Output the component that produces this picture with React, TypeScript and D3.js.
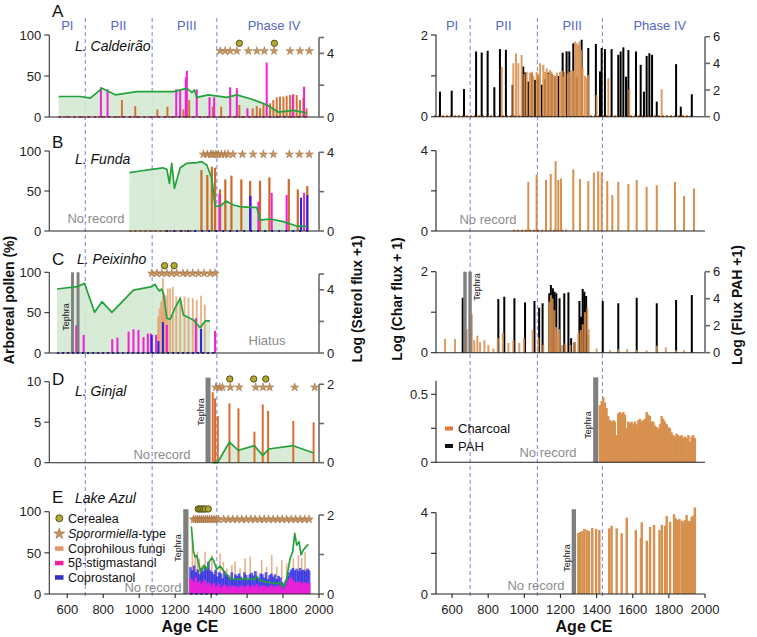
import React from "react";
import * as d3 from "d3";

const FONT = "'Liberation Sans', Arial, Helvetica, sans-serif";

// ---------------- shared axis data ----------------
const yearDomain: [number, number] = [500, 2000];
const phaseBoundaries = [700, 1072, 1432];
const phaseLabels: [string, number][] = [["PI", 600], ["PII", 885], ["PIII", 1265], ["Phase IV", 1750]];
const xTickYears = [600, 800, 1000, 1200, 1400, 1600, 1800, 2000];

// ---------------- A: L. Caldeirão ----------------
const aPollen: [number, number][] = [[552,25],[672,25],[728,23],[793,35],[867,27],[987,31],[1190,31],[1265,35],[1293,30],[1307,33],[1320,24],[1385,27],[1487,24],[1543,27],[1635,21],[1709,15],[1774,6],[1857,8],[1931,5]];
const aFungi: [number, number][] = [[904,20.7],[978,13.4],[1101,9.3],[1157,12.6],[1246,9.3],[1278,20.7],[1409,12.6],[1456,12.6],[1557,14.6],[1631,10.6],[1654,13.4],[1672,10.6],[1691,15.9],[1728,16.7],[1746,20.7],[1765,23.9],[1783,24.8],[1802,24.8],[1820,26],[1839,26.8],[1857,28],[1876,26.8],[1894,20.7],[1913,23.9],[1931,10.6]];
const aStig: [number, number][] = [[787,1.87],[824,1.74],[1206,1.74],[1228,1.66],[1259,2.49],[1265,2.91],[1320,1.74],[1391,1.24],[1417,1.24],[1506,1.87],[1543,1.81],[1602,0.55],[1709,3.42],[1854,1.38],[1917,1.91]];
const aSporo = [1450,1478,1506,1543,1607,1654,1696,1750,1839,1894,1946];
const aCereal = [1557,1752];

// ---------------- B: L. Funda ----------------
const bPollen: [number, number][] = [[946,72.9],[1006,75],[1070,77],[1132,79],[1154,77],[1168,59.6],[1181,84.6],[1196,53.3],[1228,79],[1265,84.6],[1320,85.4],[1348,86.7],[1376,82.5],[1404,65.8],[1422,31.3],[1450,31],[1483,37.5],[1524,32.5],[1561,30.4],[1617,29.6],[1654,29.6],[1672,13.7],[1728,15],[1802,11.7],[1876,6.2],[1931,6.2]];
const bFungi: [number, number][] = [[1346,76.2],[1379,70],[1404,80.4],[1422,79.2],[1450,52],[1479,64.6],[1513,69.2],[1568,64.6],[1617,62.5],[1672,62.9],[1724,67],[1832,65],[1882,52],[1935,56.2]];
const bStig: [number, number][] = [[1446,1.88],[1620,1.78],[1663,1.49],[1737,1.94],[1820,1.83],[1917,1.94]];
const bCopro: [number, number][] = [[1617,1.78],[1900,1.69],[1935,1.83]];
const bSporo = [1357,1379,1399,1411,1426,1439,1457,1476,1494,1522,1574,1633,1691,1746,1835,1891,1946];

// ---------------- C: L. Peixinho ----------------
const cPollen: [number, number][] = [[543,79.3],[654,82.2],[696,86.3],[752,50.4],[793,63.6],[848,50.4],[968,78],[1070,82.2],[1089,85.1],[1098,81],[1113,76.8],[1124,79.3],[1135,74],[1154,43],[1172,41.7],[1200,56.1],[1228,67.8],[1246,47],[1302,40.9],[1339,31.4],[1367,39.7],[1394,39.7]];
const cFungi: [number, number][] = [[1105,45],[1113,55],[1122,63.6],[1128,50],[1132,92.5],[1139,72.7],[1143,60],[1148,71],[1159,80],[1172,80],[1187,82],[1206,70],[1228,70],[1252,70],[1274,68.6],[1298,67.8],[1320,65.7],[1344,71],[1365,60]];
const cStig: [number, number][] = [[650,1.74],[691,1.14],[850,0.87],[879,0.97],[941,1.35],[968,1.5],[996,1.46],[1024,1.0],[1048,1.23],[1065,1.23],[1094,1.14],[1154,1.78],[1315,2.2],[1422,1.4]];
const cCopro: [number, number][] = [[1070,1.14],[1107,0.76],[1132,1.95],[1344,1.52]];
const cSporo = [1070,1098,1126,1154,1181,1209,1243,1268,1298,1329,1361,1394,1422];
const cCereal = [1141,1194];

// ---------------- D: L. Ginjal ----------------
const dPollen: [number, number][] = [[1409,0],[1435,0],[1502,2.55],[1552,1.53],[1641,2.1],[1687,0.91],[1720,1.69],[1857,2.1],[1970,1.2]];
const dFungi: [number, number][] = [[1409,8.7],[1422,7.95],[1437,5.77],[1502,7.33],[1552,6.7],[1641,3.83],[1687,7.2],[1717,6.4],[1857,5.15],[1970,4.98]];
const dSporo = [1426,1448,1463,1507,1555,1648,1689,1726,1865,1976];
const dCereal = [1504,1637,1704];

// ---------------- E: Lake Azul ----------------
const ePollen: [number, number][] = [[1290,82],[1302,51.4],[1311,45],[1320,47],[1333,34.4],[1344,26.3],[1361,35],[1376,30],[1391,40],[1404,44],[1413,41],[1431,30],[1450,34],[1476,26],[1504,19],[1541,17.6],[1587,18.6],[1633,17.6],[1642,17.6],[1652,21.8],[1672,16.6],[1709,14.6],[1765,12.6],[1783,13.8],[1802,8.5],[1820,18.6],[1839,42.9],[1854,51.4],[1865,73.7],[1876,59.5],[1889,63.6],[1900,47.4],[1913,53.5],[1928,57.6],[1941,60.4]];
const eFungi: [number, number][] = [[1296,67.7],[1311,45.4],[1324,51.5],[1335,43.4],[1348,35.2],[1367,51.5],[1385,39.3],[1404,47.4],[1422,27.1],[1450,49.4],[1468,39.3],[1487,31.2],[1515,35.2],[1533,39.3],[1561,31.2],[1589,43.4],[1617,45.4],[1654,27.1],[1681,41.3],[1709,33.2],[1737,47.4],[1765,33.2],[1793,41.3],[1820,37.3],[1857,43.4],[1885,47.4],[1904,43.4],[1922,51.5],[1941,31.2]];
const eCopro: [number, number][] = [[1285,0.68],[1295,0.6],[1305,0.72],[1315,0.55],[1325,0.62],[1335,0.5],[1345,0.66],[1355,0.58],[1365,0.7],[1375,0.64],[1385,0.82],[1395,0.6],[1405,0.56],[1415,0.5],[1425,0.62],[1435,0.45],[1445,0.55],[1455,0.52],[1465,0.4],[1475,0.58],[1485,0.5],[1495,0.48],[1505,0.42],[1515,0.55],[1525,0.38],[1535,0.5],[1545,0.46],[1555,0.52],[1565,0.44],[1575,0.4],[1585,0.55],[1595,0.48],[1605,0.36],[1615,0.5],[1625,0.54],[1635,0.47],[1645,0.58],[1655,0.44],[1665,0.4],[1675,0.52],[1685,0.5],[1695,0.42],[1705,0.55],[1715,0.38],[1725,0.48],[1735,0.52],[1745,0.44],[1755,0.5],[1765,0.38],[1775,0.46],[1785,0.42],[1795,0.3],[1805,0.26],[1815,0.34],[1825,0.45],[1835,0.55],[1845,0.62],[1855,0.66],[1865,0.6],[1875,0.64],[1885,0.58],[1895,0.66],[1905,0.6],[1915,0.62],[1925,0.58],[1935,0.64],[1945,0.6]];
const eStig: [number, number][] = [[1285,0.4],[1295,0.35],[1305,0.3],[1315,0.42],[1325,0.28],[1335,0.33],[1345,0.25],[1355,0.3],[1365,0.36],[1375,0.22],[1385,0.3],[1395,0.25],[1405,0.2],[1415,0.28],[1425,0.18],[1435,0.22],[1445,0.26],[1455,0.15],[1465,0.2],[1475,0.24],[1485,0.18],[1495,0.2],[1505,0.16],[1515,0.22],[1525,0.18],[1535,0.2],[1545,0.14],[1555,0.18],[1565,0.22],[1575,0.16],[1585,0.2],[1595,0.18],[1605,0.24],[1615,0.15],[1625,0.2],[1635,0.22],[1645,0.18],[1655,0.25],[1665,0.16],[1675,0.2],[1685,0.22],[1695,0.18],[1705,0.2],[1715,0.15],[1725,0.18],[1735,0.22],[1745,0.16],[1755,0.2],[1765,0.18],[1775,0.22],[1785,0.2],[1795,0.15],[1805,0.12],[1815,0.2],[1825,0.3],[1835,0.38],[1845,0.42],[1855,0.35],[1865,0.3],[1875,0.28],[1885,0.32],[1895,0.3],[1905,0.26],[1915,0.3],[1925,0.28],[1935,0.25],[1945,0.3]];
const eSporo = [1302,1314,1325,1336,1347,1358,1369,1380,1392,1404,1416,1428,1440,1470,1495,1520,1545,1570,1595,1620,1645,1670,1695,1720,1745,1770,1795,1820,1845,1870,1895,1920,1945];
const eCereal = [1328,1338,1348,1358,1368,1384];

// ---------------- right column: charcoal & PAH ----------------
const rAPah: [number, number][] = [[533,1.88],[598,1.95],[666,2.08],[733,4.89],[764,4.81],[797,4.94],[834,2.21],[865,5.07],[898,5.02],[935,2.38],[994,3.76],[1004,3.31],[1022,2.63],[1041,3.26],[1059,2.76],[1077,3.0],[1096,2.4],[1114,2.8],[1133,3.3],[1151,3.2],[1170,3.0],[1188,3.05],[1212,4.8],[1234,4.9],[1249,4.9],[1271,5.5],[1290,3.0],[1317,5.77],[1354,5.15],[1396,5.45],[1419,3.4],[1428,5.15],[1446,5.07],[1483,5.07],[1520,4.64],[1533,4.89],[1548,5.2],[1563,3.0],[1576,5.0],[1618,4.89],[1644,3.89],[1662,1.88],[1677,4.56],[1692,4.76],[1707,4.64],[1733,1.13],[1840,3.94],[1866,0.75],[1927,1.68]];
const rAChar: [number, number][] = [[875,1.22],[939,1.31],[954,1.55],[967,1.31],[985,1.51],[1000,1.05],[1013,1.1],[1030,1.08],[1041,1.1],[1050,1.0],[1068,1.1],[1078,1.05],[1087,1.31],[1105,1.27],[1115,1.1],[1124,1.18],[1133,1.05],[1142,1.14],[1150,1.1],[1160,1.02],[1170,1.0],[1180,1.08],[1197,1.1],[1208,1.12],[1215,0.98],[1225,1.1],[1240,1.05],[1250,1.1],[1262,1.14],[1270,1.12],[1281,1.84],[1290,1.8],[1298,1.75],[1305,1.84],[1314,1.63],[1322,1.2],[1335,1.0],[1345,0.95],[1354,1.02],[1400,0.53],[1465,0.94],[1581,0.67],[1760,0.67]];
const rBChar: [number, number][] = [[1022,2.45],[1068,2.79],[1120,2.54],[1146,2.84],[1173,3.48],[1188,2.54],[1203,2.62],[1271,3.07],[1308,2.59],[1354,2.49],[1385,2.9],[1409,2.98],[1428,2.92],[1459,2.49],[1487,1.79],[1520,2.45],[1576,2.34],[1622,2.54],[1677,2.2],[1733,2.28],[1834,2.45],[1884,1.74],[1939,2.12]];
const rCPah: [number, number][] = [[659,4.07],[856,3.97],[889,4.15],[945,4.03],[1004,3.73],[1056,3.83],[1082,3.33],[1101,3.66],[1138,4.4],[1147,5.01],[1158,4.77],[1167,4.52],[1177,4.4],[1195,4.03],[1221,4.4],[1244,4.47],[1259,1.07],[1278,0.77],[1305,3.83],[1314,2.67],[1323,4.72],[1332,4.52],[1342,4.2],[1351,1.32],[1434,3.83],[1520,3.66],[1622,4.07],[1733,3.66],[1840,3.9],[1927,4.27]];
const rCChar: [number, number][] = [[561,0.34],[616,0.34],[681,0.58],[709,0.95],[723,0.31],[740,0.42],[755,0.26],[779,0.31],[801,0.19],[829,0.1],[853,0.36],[881,0.49],[912,0.24],[939,0.31],[972,0.24],[998,0.36],[1046,0.56],[1077,0.36],[1105,0.19],[1138,1.26],[1147,1.42],[1156,1.34],[1166,1.05],[1175,0.63],[1184,0.46],[1193,0.58],[1208,0.19],[1227,0.23],[1254,0.19],[1281,0.26],[1299,0.49],[1312,0.56],[1323,0.7],[1336,1.0],[1349,1.11],[1356,0.58],[1400,0.1],[1474,0.06],[1520,0.09],[1569,0.09],[1622,0.07],[1677,0.06],[1733,0.17],[1783,0.13],[1840,0.06],[1884,0.06]];
const rDChar: [number, number][] = [[1418,0.42],[1428,0.45],[1437,0.48],[1446,0.44],[1455,0.4],[1464,0.34],[1474,0.31],[1483,0.3],[1492,0.31],[1501,0.3],[1511,0.2],[1520,0.36],[1529,0.37],[1538,0.36],[1548,0.37],[1557,0.35],[1566,0.25],[1575,0.3],[1584,0.29],[1594,0.3],[1603,0.28],[1612,0.3],[1621,0.28],[1631,0.31],[1640,0.32],[1649,0.3],[1658,0.31],[1668,0.32],[1677,0.37],[1686,0.35],[1695,0.34],[1705,0.3],[1714,0.3],[1723,0.27],[1732,0.26],[1741,0.25],[1751,0.28],[1760,0.34],[1769,0.32],[1778,0.3],[1788,0.28],[1797,0.26],[1806,0.25],[1815,0.22],[1825,0.2],[1834,0.19],[1843,0.21],[1852,0.2],[1861,0.19],[1871,0.2],[1880,0.18],[1889,0.19],[1898,0.18],[1908,0.2],[1917,0.15],[1926,0.19],[1935,0.2],[1944,0.18]];
const rEChar: [number, number][] = [[1299,3.0],[1308,3.05],[1321,3.1],[1332,3.2],[1345,3.15],[1358,3.1],[1376,3.25],[1397,3.2],[1415,3.15],[1470,3.23],[1483,3.36],[1511,3.23],[1539,2.99],[1567,3.76],[1617,3.15],[1645,2.75],[1650,3.53],[1678,2.63],[1696,3.3],[1718,3.4],[1748,3.15],[1761,3.4],[1779,3.36],[1788,3.84],[1807,3.56],[1829,3.92],[1838,3.72],[1847,3.64],[1858,3.69],[1871,3.61],[1880,3.56],[1889,3.64],[1898,3.89],[1907,3.6],[1917,3.58],[1926,3.8],[1935,3.86],[1944,4.26]];

// ---------------- colours ----------------
const GREEN = "#24a23c";
const GREEN_FILL = "#d3e9d3";
const MAGENTA = "#f21fd6";
const BLUE = "#2626e6";
const CHAR = "#d8904f";
const STAR_FILL = "#c9935b";
const CER_FILL = "#b3a631";
const PHASE = "#7d7fdc";
const TEPHRA = "#7f7f7f";

const leftPanels = [
  { id: "A", title: "L. Caldeirão", titleX: 75, titleY: 51, letterY: 17,
    y0: 117, yTopL: 35, lMax: 100, lTicks: [0, 50, 100], lLabels: [0, 50, 100],
    yTopR: 37.5, rMax: 5, rTicks: [0, 2, 4, 5], rLabels: [0, 4],
    pollen: aPollen, fillPollen: true, fungi: aFungi, fungiColor: "#d2743a", fungiW: 2,
    stig: aStig, copro: [] as [number, number][], sporo: aSporo, cereal: aCereal, starY: 51, cerY: 43.3,
    tephra: [] as number[][], dots: [[550, 1940, "#e07d3c"], [556, 1940, MAGENTA]],
    notes: [] as { t: string; x: number; y: number }[] },
  { id: "B", title: "L. Funda", titleX: 75, titleY: 164, letterY: 148,
    y0: 231, yTopL: 151, lMax: 100, lTicks: [0, 50, 100], lLabels: [0, 50, 100],
    yTopR: 152.3, rMax: 4, rTicks: [0, 2, 4], rLabels: [0, 4],
    pollen: bPollen, fillPollen: true, fungi: bFungi, fungiColor: "#cf6a2d", fungiW: 2.2,
    stig: bStig, copro: bCopro, sporo: bSporo, cereal: [] as number[], starY: 154.3, cerY: 0,
    tephra: [] as number[][], dots: [[946, 1320, "#e07d3c"], [1150, 1940, BLUE]],
    notes: [{ t: "No record", x: 96, y: 223 }] },
  { id: "C", title: "L. Peixinho", titleX: 77, titleY: 264, letterY: 265,
    y0: 353, yTopL: 272.3, lMax: 100, lTicks: [0, 50, 100], lLabels: [0, 50, 100],
    yTopR: 274, rMax: 5, rTicks: [0, 2, 4, 5], rLabels: [0, 4],
    pollen: cPollen, fillPollen: true, fungi: cFungi, fungiColor: "#e3a26f", fungiW: 1.8,
    stig: cStig, copro: cCopro, sporo: cSporo, cereal: cCereal, starY: 273.3, cerY: 265.7,
    tephra: [[621, 637, 100], [652, 668, 100]], dots: [[543, 1425, BLUE]],
    notes: [{ t: "Hiatus", x: 267, y: 345 }] },
  { id: "D", title: "L. Ginjal", titleX: 75, titleY: 396, letterY: 385,
    y0: 462.7, yTopL: 381.7, lMax: 10, lTicks: [0, 5, 10], lLabels: [0, 5, 10],
    yTopR: 384.3, rMax: 2, rTicks: [0, 1, 2], rLabels: [0, 2],
    pollen: dPollen, fillPollen: true, fungi: dFungi, fungiColor: "#d96c30", fungiW: 2,
    stig: [] as [number, number][], copro: [] as [number, number][], sporo: dSporo, cereal: dCereal, starY: 387.3, cerY: 379,
    tephra: [[1369, 1397, 10.5]], dots: [] as any[],
    notes: [{ t: "No record", x: 162, y: 459 }] },
  { id: "E", title: "Lake Azul", titleX: 75, titleY: 503, letterY: 503,
    y0: 594, yTopL: 511.7, lMax: 100, lTicks: [0, 50, 100], lLabels: [0, 50, 100],
    yTopR: 515, rMax: 2, rTicks: [0, 1, 2], rLabels: [0, 2],
    pollen: ePollen, fillPollen: false, fungi: eFungi, fungiColor: "#e3a47c", fungiW: 1.6,
    stig: eStig, copro: eCopro, sporo: eSporo, cereal: eCereal, starY: 519.3, cerY: 509,
    tephra: [[1245, 1274, 103]], dots: [[1285, 1450, BLUE]],
    notes: [{ t: "No record", x: 153, y: 592 }] },
];

const rightPanels = [
  { id: "rA", y0: 116.7, yTop: 35, max: 2, ticks: [0, 1, 2], labels: [0, 2],
    char: rAChar, charW: 2, pah: rAPah, pahTop: 36.7, tephra: [] as number[][], dots: [[500, 1940, "#e08a4a"]], notes: [] as any[] },
  { id: "rB", y0: 231, yTop: 150.7, max: 4, ticks: [0, 2, 4], labels: [0, 4],
    char: rBChar, charW: 2, pah: null as any, pahTop: 0, tephra: [] as number[][], dots: [[938, 1240, "#e08a4a"]],
    notes: [{ t: "No record", x: 488, y: 224 }] },
  { id: "rC", y0: 352.7, yTop: 271.7, max: 2, ticks: [0, 1, 2], labels: [0, 2],
    char: rCChar, charW: 2, pah: rCPah, pahTop: 271.7, tephra: [[662, 681, 2], [690, 709, 2]], dots: [] as any[],
    notes: [] as any[] },
  { id: "rD", y0: 462.3, yTop: 380.7, max: 0.6, ticks: [0, 0.25, 0.5], labels: [0, 0.5],
    char: rDChar, charW: 2.4, pah: null as any, pahTop: 0, tephra: [[1381, 1409, 0.625]], dots: [] as any[],
    notes: [{ t: "No record", x: 548, y: 457 }] },
  { id: "rE", y0: 594, yTop: 512.7, max: 4, ticks: [0, 2, 4], labels: [0, 4],
    char: rEChar, charW: 2.4, pah: null as any, pahTop: 0, tephra: [[1262, 1286, 4.17]], dots: [] as any[],
    notes: [{ t: "No record", x: 536, y: 590 }] },
];

function Bars({ data, x, y, color, w, opacity = 1 }: any) {
  const y0 = y(0);
  return (
    <g fill={color} fillOpacity={opacity}>
      {data.map((d: number[], i: number) => (
        <rect key={i} x={x(d[0]) - w / 2} y={y(d[1])} width={w} height={Math.max(0, y0 - y(d[1]))} />
      ))}
    </g>
  );
}

function VAxis({ x, scale, ticks, labels, side, color, width = 1 }: any) {
  const [r0, r1] = scale.range();
  const dir = side === "left" ? -1 : 1;
  return (
    <g>
      <line x1={x} x2={x} y1={r0} y2={r1} stroke={color} strokeWidth={width} />
      {ticks.map((t: number) => (
        <line key={"t" + t} x1={x} x2={x + dir * 5} y1={scale(t)} y2={scale(t)} stroke={color} strokeWidth={width} />
      ))}
      {labels.map((t: number) => (
        <text key={"l" + t} x={x + dir * 8} y={scale(t)} dy="0.36em" textAnchor={side === "left" ? "end" : "start"}
          fontSize={13} fill="#222">{String(t)}</text>
      ))}
    </g>
  );
}

export default function App() {
  const xL = d3.scaleLinear().domain(yearDomain).range([49.3, 319]);
  const xR = d3.scaleLinear().domain(yearDomain).range([434, 705]);
  const starPath = d3.symbol().type(d3.symbolStar).size(22)() as string;

  const leftG = leftPanels.map((p) => {
    const yL = d3.scaleLinear().domain([0, p.lMax]).range([p.y0, p.yTopL]);
    const yR = d3.scaleLinear().domain([0, p.rMax]).range([p.y0, p.yTopR]);
    const area = d3.area<[number, number]>().x((d) => xL(d[0])).y0(p.y0).y1((d) => yL(d[1]));
    const line = d3.line<[number, number]>().x((d) => xL(d[0])).y((d) => yL(d[1]));
    const sporoLine = p.id === "C" || p.id === "E";
    return (
      <g key={p.id}>
        {p.fillPollen && <path d={area(p.pollen) as string} fill={GREEN_FILL} fillOpacity={0.9} />}
        <Bars data={p.fungi} x={xL} y={yL} color={p.fungiColor} w={p.fungiW} opacity={p.id === "C" || p.id === "E" ? 0.85 : 1} />
        {p.id === "E" ? (
          <>
            <Bars data={p.copro} x={xL} y={yR} color={BLUE} w={2.6} opacity={0.75} />
            <Bars data={p.stig} x={xL} y={yR} color={MAGENTA} w={2.6} opacity={0.9} />
          </>
        ) : (
          <>
            <Bars data={p.stig} x={xL} y={yR} color={MAGENTA} w={2} />
            <Bars data={p.copro} x={xL} y={yR} color={BLUE} w={2} />
          </>
        )}
        {p.tephra.map((t, i) => (
          <rect key={i} x={xL(t[0])} y={yL(t[2])} width={xL(t[1]) - xL(t[0])} height={p.y0 - yL(t[2])} fill={TEPHRA} />
        ))}
        <path d={line(p.pollen) as string} fill="none" stroke={GREEN} strokeWidth={1.7} strokeLinejoin="round" />
        {p.dots.map((d: any, i: number) => (
          <line key={i} x1={xL(d[0])} x2={xL(d[1])} y1={p.y0} y2={p.y0} stroke={d[2]} strokeWidth={2.2}
            strokeDasharray={i === 0 ? "2 3" : "2 5"} />
        ))}
        <line x1={xL(500)} x2={xL(2000)} y1={p.y0} y2={p.y0} stroke="#222" strokeWidth={1.1} />
        <VAxis x={xL(500)} scale={yL} ticks={p.lTicks} labels={p.lLabels} side="left" color="#333" width={1.1} />
        <VAxis x={xL(2000)} scale={yR} ticks={p.rTicks} labels={p.rLabels} side="right" color="#6a6a6a" width={1.6} />
        {sporoLine && (
          <line x1={xL(p.sporo[0]) - 3} x2={xL(p.sporo[p.sporo.length - 1]) + 3} y1={p.starY} y2={p.starY}
            stroke="#b98a5c" strokeWidth={0.8} />
        )}
        {p.sporo.map((s, i) => (
          <path key={i} d={starPath} transform={`translate(${xL(s)},${p.starY})`} fill={STAR_FILL} stroke="#8c5f34" strokeWidth={0.4} />
        ))}
        {p.cereal.map((c, i) => (
          <circle key={i} cx={xL(c)} cy={p.cerY} r={3.2} fill={CER_FILL} stroke="#3e3b10" strokeWidth={0.8} />
        ))}
        <text x={52} y={p.letterY} fontSize={17} fill="#111">{p.id}</text>
        <text x={p.titleX} y={p.titleY} fontSize={14} fontStyle="italic" fill="#111">{p.title}</text>
        {p.notes.map((n, i) => (
          <text key={i} x={n.x} y={n.y} fontSize={13} fill="#8c8c8c" textAnchor="middle">{n.t}</text>
        ))}
        {p.tephra.length > 0 && (
          <text transform={`translate(${xL(p.tephra[0][0]) - 2},${p.id === "C" ? 317 : p.id === "D" ? 412 : 548}) rotate(-90)`}
            fontSize={9} fill="#222" textAnchor="middle">Tephra</text>
        )}
      </g>
    );
  });

  const rightG = rightPanels.map((p) => {
    const y = d3.scaleLinear().domain([0, p.max]).range([p.y0, p.yTop]);
    const yP = d3.scaleLinear().domain([0, 6]).range([p.y0, p.pahTop]);
    return (
      <g key={p.id}>
        {p.dots.map((d: any, i: number) => (
          <line key={i} x1={xR(d[0])} x2={xR(d[1])} y1={p.y0 - 0.5} y2={p.y0 - 0.5} stroke={d[2]} strokeWidth={2.2} strokeDasharray="2 2" />
        ))}
        {p.pah && <Bars data={p.pah} x={xR} y={yP} color="#000" w={2} />}
        <Bars data={p.char} x={xR} y={y} color={CHAR} w={p.charW} opacity={p.pah ? 0.88 : 1} />
        {p.tephra.map((t, i) => (
          <rect key={i} x={xR(t[0])} y={y(t[2])} width={xR(t[1]) - xR(t[0])} height={p.y0 - y(t[2])} fill={TEPHRA} />
        ))}
        <line x1={436} x2={xR(2000)} y1={p.y0} y2={p.y0} stroke="#222" strokeWidth={1.1} />
        <VAxis x={436} scale={y} ticks={p.ticks} labels={p.labels} side="left" color="#222" width={1.1} />
        {p.pah && (
          <VAxis x={xR(2000)} scale={yP} ticks={[0, 2, 4, 6]} labels={[0, 2, 4, 6]} side="right" color="#6a6a6a" width={1.6} />
        )}
        {p.notes.map((n: any, i: number) => (
          <text key={i} x={n.x} y={n.y} fontSize={13} fill="#8c8c8c" textAnchor="middle">{n.t}</text>
        ))}
        {p.tephra.length > 0 && (
          <text transform={`translate(${p.id === "rC" ? xR(p.tephra[1][1]) + 8 : xR(p.tephra[0][0]) - 2},${p.id === "rC" ? 287 : p.id === "rD" ? 425 : 558}) rotate(-90)`}
            fontSize={9} fill="#222" textAnchor="middle">Tephra</text>
        )}
      </g>
    );
  });

  const bottomAxis = (x: d3.ScaleLinear<number, number>, y0: number) => (
    <g>
      {xTickYears.map((t) => (
        <g key={t}>
          <line x1={x(t)} x2={x(t)} y1={y0} y2={y0 + 4} stroke="#222" strokeWidth={1.1} />
          <text x={x(t)} y={614} fontSize={13} textAnchor="middle" fill="#222">{t}</text>
        </g>
      ))}
    </g>
  );

  const legendRows = [
    { kind: "circle", label: "Cerealea", y: 518.3 },
    { kind: "star", label: "Sporormiella", y: 533.8 },
    { kind: "rect", color: "#dc9a6c", label: "Coprohilous fungi", y: 548.3 },
    { kind: "rect", color: "#f2209a", label: "5β-stigmastanol", y: 562.8 },
    { kind: "rect", color: "#2f2fc8", label: "Coprostanol", y: 577.2 },
  ];

  return (
    <svg width={757} height={637} style={{ position: "absolute", left: 0, top: 0, background: "#fff" }}
      fontFamily={FONT}>
      {[xL, xR].map((x, k) =>
        phaseBoundaries.map((b) => (
          <line key={k + "-" + b} x1={x(b)} x2={x(b)} y1={18} y2={597} stroke={PHASE} strokeWidth={1} strokeDasharray="4 3" />
        ))
      )}
      {[xL, xR].map((x, k) =>
        phaseLabels.map(([n, yr]) => (
          <text key={k + n} x={x(yr)} y={30} fontSize={13} fill="#5566c4" textAnchor="middle">{n}</text>
        ))
      )}
      {leftG}
      {rightG}
      {bottomAxis(xL, 594)}
      {bottomAxis(xR, 594)}
      {legendRows.map((r, i) => (
        <g key={i}>
          {r.kind === "circle" && <circle cx={59.3} cy={r.y} r={3.5} fill={CER_FILL} stroke="#3e3b10" strokeWidth={0.8} />}
          {r.kind === "star" && <path d={starPath} transform={`translate(59.3,${r.y}) scale(1.3)`} fill={STAR_FILL} stroke="#8c5f34" strokeWidth={0.4} />}
          {r.kind === "rect" && <rect x={55} y={r.y - 2} width={8.5} height={4.5} fill={r.color} />}
          <text x={68} y={r.y + 4.5} fontSize={12.5} fill="#111">
            {r.kind === "star" ? (<><tspan fontStyle="italic">Sporormiella</tspan><tspan>-type</tspan></>) : r.label}
          </text>
        </g>
      ))}
      <rect x={445} y={426.5} width={8} height={4} fill="#e0783e" />
      <text x={458} y={433} fontSize={13} fill="#111">Charcoal</text>
      <rect x={445} y={444} width={8} height={4} fill="#111" />
      <text x={458} y={450.5} fontSize={13} fill="#111">PAH</text>
      <text transform="translate(14,300) rotate(-90)" fontSize={14} fontWeight="bold" textAnchor="middle" fill="#111">Arboreal pollen  (%)</text>
      <text transform="translate(362,299) rotate(-90)" fontSize={14} fontWeight="bold" textAnchor="middle" fill="#111">Log (Sterol flux +1)</text>
      <text transform="translate(402,299) rotate(-90)" fontSize={14} fontWeight="bold" textAnchor="middle" fill="#111">Log  (Char  flux + 1)</text>
      <text transform="translate(742,305) rotate(-90)" fontSize={14} fontWeight="bold" textAnchor="middle" fill="#111">Log (Flux PAH +1)</text>
      <text x={190} y={632} fontSize={16} fontWeight="bold" textAnchor="middle" fill="#111">Age CE</text>
      <text x={584} y={632} fontSize={16} fontWeight="bold" textAnchor="middle" fill="#111">Age CE</text>
    </svg>
  );
}
